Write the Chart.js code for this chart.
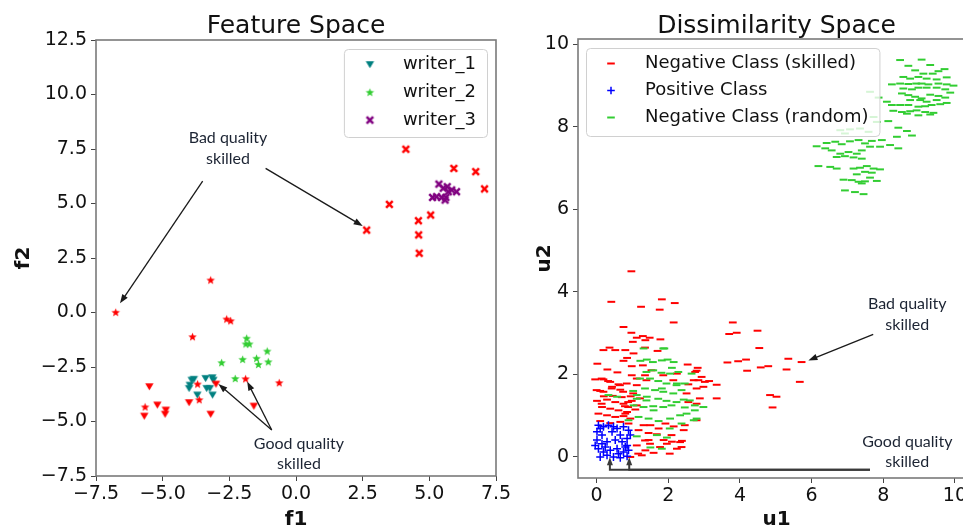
<!DOCTYPE html>
<html>
<head>
<meta charset="utf-8">
<script src="https://cdn.jsdelivr.net/npm/chart.js@4.4.1/dist/chart.umd.min.js"></script>
<style>
html,body{margin:0;padding:0;background:#fff;overflow:hidden;width:963px;height:526px;}
.wrap{position:absolute;top:0;}
</style>
</head>
<body>
<div class="wrap" style="left:0;width:520px;height:526px"><canvas id="c1" width="520" height="526"></canvas></div>
<div class="wrap" style="left:520px;width:480px;height:526px"><canvas id="c2" width="480" height="526"></canvas></div>
<script>
// ---------------- DATA : Feature Space ----------------
const featureTitle = 'Feature Space';
const featureXLabel = 'f1';
const featureYLabel = 'f2';
const featureXTicks = [-7.5, -5, -2.5, 0, 2.5, 5, 7.5];
const featureXTickLabels = ['\u22127.5', '\u22125.0', '\u22122.5', '0.0', '2.5', '5.0', '7.5'];
const featureYTicks = [-7.5, -5, -2.5, 0, 2.5, 5, 7.5, 10, 12.5];
const featureYTickLabels = ['\u22127.5', '\u22125.0', '\u22122.5', '0.0', '2.5', '5.0', '7.5', '10.0', '12.5'];
const featureSeriesNames = ['writer_1', 'writer_2', 'writer_3'];

const writer1 = [[-3.91,-3.10],[-3.83,-3.06],[-3.98,-3.33],[-4.01,-3.48],[-3.70,-3.78],[-3.39,-3.02],[-3.10,-3.10],[-3.35,-3.48],[-3.23,-3.48],[-3.13,-3.78],[-3.14,-2.99]];
const writer2 = [[-1.85,-1.18],[-1.88,-1.44],[-1.75,-1.44],[-1.08,-1.77],[-1.48,-2.10],[-2.00,-2.15],[-1.41,-2.38],[-1.04,-2.26],[-2.79,-2.30],[-2.28,-3.03]];
const writer3 = [[5.36,5.89],[5.12,5.28],[5.27,5.31],[5.46,5.28],[5.62,5.28],[5.52,5.70],[5.67,5.77],[5.84,5.62],[6.02,5.54],[5.59,5.16],[5.71,5.54]];
const forgeries1 = [[-5.50,-3.40],[-5.20,-4.24],[-4.88,-4.47],[-4.91,-4.66],[-5.69,-4.75],[-4.01,-4.13],[-3.20,-4.66],[-1.58,-4.29],[-3.00,-3.28]];
const forgeries2 = [[-6.76,0.01],[-3.20,1.49],[-2.60,-0.30],[-2.45,-0.38],[-3.88,-1.11],[-1.89,-3.04],[-0.63,-3.22],[-3.69,-3.28],[-3.63,-4.00],[-5.66,-4.33]];
const forgeries3 = [[4.12,7.49],[5.92,6.61],[6.74,6.46],[7.07,5.67],[3.50,4.96],[4.59,4.21],[5.05,4.47],[4.60,3.56],[4.62,2.72],[2.65,3.78]];

const featureNotes = [
  {lines: ['Bad quality', 'skilled'], x: -2.55, y: 7.54},
  {lines: ['Good quality', 'skilled'], x: 0.11, y: -6.48}
];
const featureArrows = [
  [[-3.50, 6.03], [-6.60, 0.42]],
  [[-1.14, 6.61], [2.50, 3.97]],
  [[-0.91, -5.39], [-2.91, -3.28]],
  [[-0.91, -5.39], [-1.83, -3.17]]
];

// ---------------- DATA : Dissimilarity Space ----------------
const dissTitle = 'Dissimilarity Space';
const dissXLabel = 'u1';
const dissYLabel = 'u2';
const dissXTicks = [0, 2, 4, 6, 8, 10];
const dissXTickLabels = ['0', '2', '4', '6', '8', '10'];
const dissYTicks = [0, 2, 4, 6, 8, 10];
const dissYTickLabels = ['0', '2', '4', '6', '8', '10'];
const dissSeriesNames = ['Negative Class (skilled)', 'Positive Class', 'Negative Class (random)'];

const negativeSkilled = [
 [0.97,4.50],[0.41,3.76],[1.82,3.82],[2.18,3.73],[1.24,3.64],[1.76,3.57],[2.15,3.26],[0.75,3.15],[0.97,3.01],[1.12,2.89],
 [1.29,2.93],[1.48,2.89],[1.01,2.79],[1.36,2.83],[1.78,2.85],[0.36,2.65],[0.19,2.59],[0.52,2.59],[0.80,2.59],[1.03,2.51],
 [1.70,2.57],[0.75,2.33],[0.98,2.20],[1.29,2.22],[2.54,2.24],[2.82,2.16],
 [3.80,3.26],[3.70,2.98],[3.91,3.01],[4.49,3.06],[4.54,2.64],[3.65,2.29],[3.95,2.32],[4.17,2.36],[4.20,2.09],[4.58,2.17],
 [4.79,2.20],[5.35,2.38],[5.72,2.30],[5.30,2.12],[5.67,1.82],[4.84,1.50],[5.02,1.46],[4.91,1.20],[3.35,1.75],[3.14,1.84],
 [3.02,1.82],[3.35,1.42],[2.93,1.94],
 [0.98,1.98],[0.84,1.78],[1.12,1.74],[1.39,1.86],[0.74,1.58],[1.02,1.54],[1.21,1.42],[0.88,1.33],[2.56,1.76],[2.79,1.66],
 [2.51,1.54],[1.86,1.98],[2.14,1.86],[1.53,2.10],[2.88,1.42],[2.79,1.29],[0.79,1.23],[1.35,2.65],
 [-0.04,1.88],[0.19,1.88],[0.38,1.82],[0.61,1.76],[0.10,1.60],[0.43,1.70],[0.66,1.63],[0.01,1.36],[0.29,1.39],[0.52,1.33],
 [0.75,1.29],[0.98,1.36],[0.15,1.21],[0.38,1.17],[0.61,1.13],[0.85,1.09],[1.08,1.15],[0.05,1.05],[0.29,1.01],[0.52,0.97],
 [0.75,0.99],[0.94,0.93],[0.10,0.87],[0.38,0.82],[0.66,0.85],[0.89,0.81],[1.31,0.77],[1.17,0.65],[1.45,0.58],[1.68,0.55],
 [1.87,0.41],[2.10,0.37],[2.38,0.39],[2.24,0.20],[1.45,0.41],[1.12,0.28],[1.36,0.16],[1.59,0.10],[1.26,0.04],[0.94,0.00],
 [1.96,0.32],[1.50,0.77],[1.73,0.69],[1.92,0.81],[2.15,0.74],[2.43,0.65],[2.75,2.06],[2.71,1.86],[2.24,2.02],
 [2.79,2.09],[2.84,1.86],[2.98,1.70],[2.56,1.33],[2.79,0.89],[2.46,0.77],[2.09,0.53],[2.33,0.36],[2.37,0.24],[2.04,0.08],
 [1.77,0.24],[1.49,0.32],[1.16,0.08],[1.35,0.40],
 [0.14,1.90],[0.32,1.84],[0.00,1.62],[0.19,1.58],[0.42,1.66],[0.65,1.74],[1.12,1.90],[1.35,1.98],[0.14,1.29],[0.88,1.21],
 [1.12,1.25],[0.70,1.45],[0.95,1.47],[0.80,1.05],[0.45,1.48],[0.20,1.47],[0.02,2.26],[0.58,2.05],[0.30,2.12],[0.85,2.40]
];
const positiveClass = [
 [0.05,0.77],[0.19,0.73],[0.33,0.77],[0.57,0.69],[0.75,0.73],[0.89,0.65],[0.01,0.61],[0.15,0.53],[0.43,0.61],[0.66,0.53],
 [0.85,0.45],[0.01,0.41],[0.15,0.32],[0.29,0.37],[0.52,0.41],[0.71,0.37],[0.85,0.28],[0.05,0.20],[0.19,0.12],[0.38,0.16],
 [0.57,0.20],[0.75,0.12],[0.89,0.16],[0.10,0.00],[0.29,0.04],[0.47,0.00],[0.66,-0.02],[0.85,0.02],[0.24,0.24],[0.94,0.53],
 [-0.04,0.28],[0.47,0.73],[0.10,0.69],[0.80,0.24],[0.61,0.08]
];
const negativeRandom = [
 [8.47,9.62],[9.07,9.63],[8.70,9.48],[9.31,9.50],[9.71,9.40],[8.89,9.37],[9.12,9.29],[9.38,9.29],[9.54,9.35],[8.56,9.21],
 [8.75,9.17],[8.98,9.21],[9.21,9.17],[9.49,9.15],[9.77,9.20],[8.47,9.05],[8.70,9.04],[8.92,9.05],[9.07,9.05],[9.26,9.03],
 [9.54,9.05],[9.77,9.03],[9.96,9.00],[8.24,9.03],[8.56,8.93],[8.80,8.91],[8.98,8.95],[9.21,8.95],[9.49,8.95],[9.73,8.91],
 [9.87,8.83],[8.52,8.81],[8.70,8.77],[8.89,8.73],[9.07,8.69],[9.31,8.78],[9.54,8.75],[9.73,8.71],[8.75,8.65],[9.03,8.65],
 [9.21,8.61],[9.49,8.65],[9.77,8.58],[8.10,8.61],[8.24,8.53],[8.47,8.53],[8.70,8.53],[8.98,8.49],[9.17,8.50],[9.35,8.53],
 [9.59,8.55],[8.28,8.39],[8.52,8.36],[8.75,8.38],[8.93,8.40],[9.17,8.36],[9.40,8.34],[8.66,8.32],[8.98,8.28],[9.31,8.30],
 [8.14,8.14],[8.42,7.98],[8.66,7.90],[8.80,7.79],[8.38,7.76],
 [7.63,8.85],[7.87,8.71],[7.73,8.24],[7.82,8.12],[6.80,7.92],[7.07,7.94],[7.35,7.96],[7.59,7.88],[6.93,7.84],
 [6.14,7.53],[6.42,7.61],[6.66,7.64],[6.84,7.58],[7.07,7.65],[7.31,7.68],[7.49,7.60],[7.68,7.66],[7.96,7.68],[8.19,7.56],
 [8.42,7.48],[6.38,7.48],[6.56,7.43],[6.80,7.35],[7.03,7.39],[7.26,7.35],[7.40,7.43],[7.63,7.52],[7.91,7.52],[6.70,7.27],
 [6.93,7.29],[7.17,7.26],[7.40,7.23],[6.19,7.05],[6.52,7.03],[6.70,6.99],[7.17,6.99],[7.35,7.01],[7.54,7.05],[7.73,6.99],
 [7.91,6.97],[7.49,6.91],[7.68,6.89],[7.26,6.85],[6.89,6.72],[7.12,6.71],[7.31,6.67],[7.49,6.68],[7.63,6.77],[7.82,6.69],
 [7.40,6.63],[6.93,6.46],[7.21,6.42],[7.45,6.37],
 [1.31,2.63],[1.89,2.63],[1.40,2.36],[1.22,2.33],[1.57,2.30],[1.82,2.34],[1.98,2.36],[2.15,2.30],[2.10,2.16],[1.86,2.63],
 [1.39,2.06],[1.58,2.10],[1.81,2.04],[2.05,2.02],[2.28,2.06],[2.65,2.02],[1.21,1.90],[1.49,1.90],[1.72,1.84],[1.95,1.78],
 [2.23,1.74],[2.46,1.78],[1.02,1.60],[1.35,1.66],[1.63,1.62],[1.86,1.58],[2.14,1.54],[2.37,1.62],[1.12,1.41],[1.39,1.37],
 [1.72,1.41],[1.95,1.36],[2.23,1.33],[2.60,1.37],[1.58,1.23],[1.86,1.21],[2.09,1.25],[2.46,1.20],[2.74,1.25],
 [0.33,1.50],[0.57,1.46],[1.12,1.50],[1.40,1.46],[1.82,1.66],[2.24,1.78],[1.03,1.25],[1.31,1.21],[1.59,1.13],[2.43,1.39],
 [2.71,0.89],[0.89,0.89],[1.17,0.97],[1.45,0.93],[1.73,0.87],[2.05,0.93],[2.33,1.01],[1.12,0.50],[1.68,0.53],[1.96,0.47],
 [1.50,0.23],[1.82,0.20],[2.98,1.21],[2.74,1.13],[2.51,1.05],[2.79,0.93],[2.37,0.81],[2.04,0.69]
];

const dissNotes = [
  {lines: ['Bad quality', 'skilled'], x: 8.67, y: 3.455},
  {lines: ['Good quality', 'skilled'], x: 8.67, y: 0.12}
];
const dissArrows = [
  [[7.72, 2.97], [5.91, 2.34]]
];
const dissElbowArrows = [
  [[7.63, -0.31], [0.37, -0.31], [0.37, -0.01]],
  [[7.63, -0.31], [0.91, -0.31], [0.91, -0.01]]
];

// ---------------- STYLE HELPERS ----------------
const FONT = '"DejaVu Sans", sans-serif';
const NOTE_FONT = '16px Lato, "Open Sans", sans-serif';
const TEAL = '#008080', LIME = '#32cd32', PURPLE = '#800080', RED = '#ff0000', BLUE = '#0000ff';

function marker(kind, color) {
  const s = 11, c = document.createElement('canvas');
  c.width = s; c.height = s;
  const g = c.getContext('2d');
  g.fillStyle = color; g.strokeStyle = color;
  const m = s / 2;
  if (kind === 'tri') {
    g.beginPath();
    g.moveTo(m - 4.2, m - 3.3); g.lineTo(m + 4.2, m - 3.3); g.lineTo(m, m + 3.8); g.closePath(); g.fill();
  } else if (kind === 'star') {
    g.beginPath();
    for (let i = 0; i < 10; i++) {
      const r = i % 2 === 0 ? 4.5 : 1.9;
      const a = -Math.PI / 2 + i * Math.PI / 5;
      const px = m + r * Math.cos(a), py = m + 0.4 + r * Math.sin(a);
      i === 0 ? g.moveTo(px, py) : g.lineTo(px, py);
    }
    g.closePath(); g.fill();
  } else if (kind === 'x') {
    g.lineWidth = 2.5; g.lineCap = 'butt';
    g.beginPath();
    g.moveTo(m - 3.3, m - 3.3); g.lineTo(m + 3.3, m + 3.3);
    g.moveTo(m - 3.3, m + 3.3); g.lineTo(m + 3.3, m - 3.3);
    g.stroke();
  }
  return c;
}
const mk = {
  triT: marker('tri', TEAL), starG: marker('star', LIME), xP: marker('x', PURPLE),
  triR: marker('tri', RED), starR: marker('star', RED), xR: marker('x', RED)
};
const toXY = a => a.map(p => ({x: p[0], y: p[1]}));

function drawArrow(ctx, pts, color, lw, hl, hw) {
  const n = pts.length;
  const [tx, ty] = pts[n - 1], [px, py] = pts[n - 2];
  const ang = Math.atan2(ty - py, tx - px);
  const bx = tx - Math.cos(ang) * hl, by = ty - Math.sin(ang) * hl;
  ctx.save();
  ctx.strokeStyle = color; ctx.fillStyle = color; ctx.lineWidth = lw;
  ctx.beginPath();
  ctx.moveTo(pts[0][0], pts[0][1]);
  for (let i = 1; i < n - 1; i++) ctx.lineTo(pts[i][0], pts[i][1]);
  ctx.lineTo(bx + Math.cos(ang) * 2, by + Math.sin(ang) * 2);
  ctx.stroke();
  ctx.beginPath();
  ctx.moveTo(tx, ty);
  ctx.lineTo(bx + Math.sin(ang) * hw / 2, by - Math.cos(ang) * hw / 2);
  ctx.lineTo(bx - Math.sin(ang) * hw / 2, by + Math.cos(ang) * hw / 2);
  ctx.closePath(); ctx.fill();
  ctx.restore();
}

const deco = {
  id: 'deco',
  afterDatasetsDraw(chart, args, o) {
    const ctx = chart.ctx, ca = chart.chartArea;
    ctx.save();
    // frame (all four spines)
    ctx.strokeStyle = '#7a7a7a'; ctx.lineWidth = 1.6;
    ctx.strokeRect(ca.left, ca.top, ca.right - ca.left, ca.bottom - ca.top);
    // legend
    ctx.font = '18px ' + FONT;
    const tw = Math.max(...o.legend.map(it => ctx.measureText(it.label).width));
    const w = 59 + tw + 11, h = 88;
    const x0 = o.legendCorner === 'tr' ? ca.right - 9 - w : ca.left + 8;
    const y0 = ca.top + 9;
    ctx.beginPath();
    ctx.roundRect(x0 + 0.5, y0 + 0.5, w, h, 4);
    ctx.fillStyle = 'rgba(255,255,255,0.8)'; ctx.fill();
    ctx.strokeStyle = '#d0d0d0'; ctx.lineWidth = 1; ctx.stroke();
    o.legend.forEach((it, i) => {
      const cy = y0 + 15.5 + i * o.rowH;
      const mx = x0 + o.markerOff;
      if (it.img) {
        ctx.drawImage(it.img, mx - it.img.width / 2, cy - it.img.height / 2);
      } else if (it.dash) {
        ctx.strokeStyle = it.dash; ctx.lineWidth = 2;
        ctx.beginPath(); ctx.moveTo(mx - 3.8, cy); ctx.lineTo(mx + 3.8, cy); ctx.stroke();
      } else if (it.cross) {
        ctx.strokeStyle = it.cross; ctx.lineWidth = 1.5;
        ctx.beginPath(); ctx.moveTo(mx - 3.8, cy); ctx.lineTo(mx + 3.8, cy);
        ctx.moveTo(mx, cy - 3.8); ctx.lineTo(mx, cy + 3.8); ctx.stroke();
      }
      ctx.fillStyle = '#111'; ctx.textAlign = 'left'; ctx.textBaseline = 'middle';
      ctx.fillText(it.label, x0 + 59, cy);
    });
    ctx.restore();
  },
  afterDraw(chart, args, o) {
    const ctx = chart.ctx, ca = chart.chartArea;
    const sx = chart.scales.x, sy = chart.scales.y;
    const P = p => [sx.getPixelForValue(p[0]), sy.getPixelForValue(p[1])];
    ctx.save();
    // title
    ctx.fillStyle = '#111'; ctx.textAlign = 'center'; ctx.textBaseline = 'alphabetic';
    ctx.font = '25px ' + FONT;
    ctx.fillText(o.title, (ca.left + ca.right) / 2, 33);
    // axis labels
    ctx.font = 'bold 20px ' + FONT;
    ctx.fillText(o.xLabel, (ca.left + ca.right) / 2, 525);
    ctx.save();
    ctx.translate(ca.left - o.yLabelOff, (ca.top + ca.bottom) / 2);
    ctx.rotate(-Math.PI / 2);
    ctx.textBaseline = 'middle';
    ctx.fillText(o.yLabel, 0, 0);
    ctx.restore();
    // notes
    ctx.font = NOTE_FONT; ctx.fillStyle = '#1c2433'; ctx.textBaseline = 'middle';
    o.notes.forEach(n => {
      const [cx, cy] = P([n.x, n.y]);
      n.lines.forEach((t, i) => ctx.fillText(t, cx, cy + (i - (n.lines.length - 1) / 2) * 20.5));
    });
    // arrows
    (o.arrows || []).forEach(a => drawArrow(ctx, a.map(P), '#1a1a1a', 1.3, 9, 6.5));
    (o.elbows || []).forEach(a => drawArrow(ctx, a.map(P), '#3a3a3a', 2, 8, 6));
    ctx.restore();
  }
};

function scaleCfg(min, max, ticks, labels, fitProp, fitVal) {
  return {
    type: 'linear', min: min, max: max,
    afterBuildTicks: s => { s.ticks = ticks.map(v => ({value: v})); },
    afterFit: s => { s[fitProp] = fitVal; },
    ticks: {
      callback: v => labels[ticks.indexOf(v)],
      font: {family: 'DejaVu Sans', size: 19}, color: '#111',
      padding: fitProp === 'height' ? 2 : 4, autoSkip: false, maxRotation: 0, minRotation: 0
    },
    grid: {drawOnChartArea: false, drawTicks: true, tickLength: 5, color: '#444', lineWidth: 1},
    border: {display: false}
  };
}

// ---------------- CHART 1 : Feature Space ----------------
new Chart(document.getElementById('c1'), {
  type: 'scatter',
  data: {
    datasets: [
      {label: featureSeriesNames[0], data: toXY(writer1), pointStyle: mk.triT, order: 3},
      {label: featureSeriesNames[1], data: toXY(writer2), pointStyle: mk.starG, order: 3},
      {label: featureSeriesNames[2], data: toXY(writer3), pointStyle: mk.xP, order: 3},
      {label: 'forgeries_1', data: toXY(forgeries1), pointStyle: mk.triR, order: 1},
      {label: 'forgeries_2', data: toXY(forgeries2), pointStyle: mk.starR, order: 1},
      {label: 'forgeries_3', data: toXY(forgeries3), pointStyle: mk.xR, order: 1}
    ]
  },
  options: {
    responsive: false, animation: false, events: [],
    layout: {padding: {top: 40, right: 24, bottom: 0, left: 0}},
    plugins: {
      legend: {display: false}, tooltip: {enabled: false}, title: {display: false},
      deco: {
        title: featureTitle, xLabel: featureXLabel, yLabel: featureYLabel, yLabelOff: 72,
        legendCorner: 'tr', markerOff: 26, rowH: 27.8,
        legend: [
          {label: featureSeriesNames[0], img: mk.triT},
          {label: featureSeriesNames[1], img: mk.starG},
          {label: featureSeriesNames[2], img: mk.xP}
        ],
        notes: featureNotes, arrows: featureArrows
      }
    },
    scales: {
      x: scaleCfg(-7.5, 7.5, featureXTicks, featureXTickLabels, 'height', 50),
      y: scaleCfg(-7.5, 12.5, featureYTicks, featureYTickLabels, 'width', 96)
    }
  },
  plugins: [deco]
});

// ---------------- CHART 2 : Dissimilarity Space ----------------
new Chart(document.getElementById('c2'), {
  type: 'scatter',
  data: {
    datasets: [
      {label: dissSeriesNames[0], data: toXY(negativeSkilled), pointStyle: 'line', pointRadius: 3.9,
       borderColor: RED, backgroundColor: RED, borderWidth: 2, order: 3},
      {label: dissSeriesNames[1], data: toXY(positiveClass), pointStyle: 'cross', pointRadius: 4,
       borderColor: BLUE, backgroundColor: BLUE, borderWidth: 1.5, order: 2},
      {label: dissSeriesNames[2], data: toXY(negativeRandom), pointStyle: 'line', pointRadius: 3.9,
       borderColor: LIME, backgroundColor: LIME, borderWidth: 2, order: 1}
    ]
  },
  options: {
    responsive: false, animation: false, events: [],
    layout: {padding: {top: 39, right: 25, bottom: 0, left: 0}},
    plugins: {
      legend: {display: false}, tooltip: {enabled: false}, title: {display: false},
      deco: {
        title: dissTitle, xLabel: dissXLabel, yLabel: dissYLabel, yLabelOff: 33,
        legendCorner: 'tl', markerOff: 25, rowH: 27,
        legend: [
          {label: dissSeriesNames[0], dash: RED},
          {label: dissSeriesNames[1], cross: BLUE},
          {label: dissSeriesNames[2], dash: LIME}
        ],
        notes: dissNotes, arrows: dissArrows, elbows: dissElbowArrows
      }
    },
    scales: {
      x: scaleCfg(-0.52, 10.56, dissXTicks, dissXTickLabels, 'height', 48),
      y: scaleCfg(-0.51, 10.13, dissYTicks, dissYTickLabels, 'width', 58)
    }
  },
  plugins: [deco]
});
</script>
</body>
</html>
